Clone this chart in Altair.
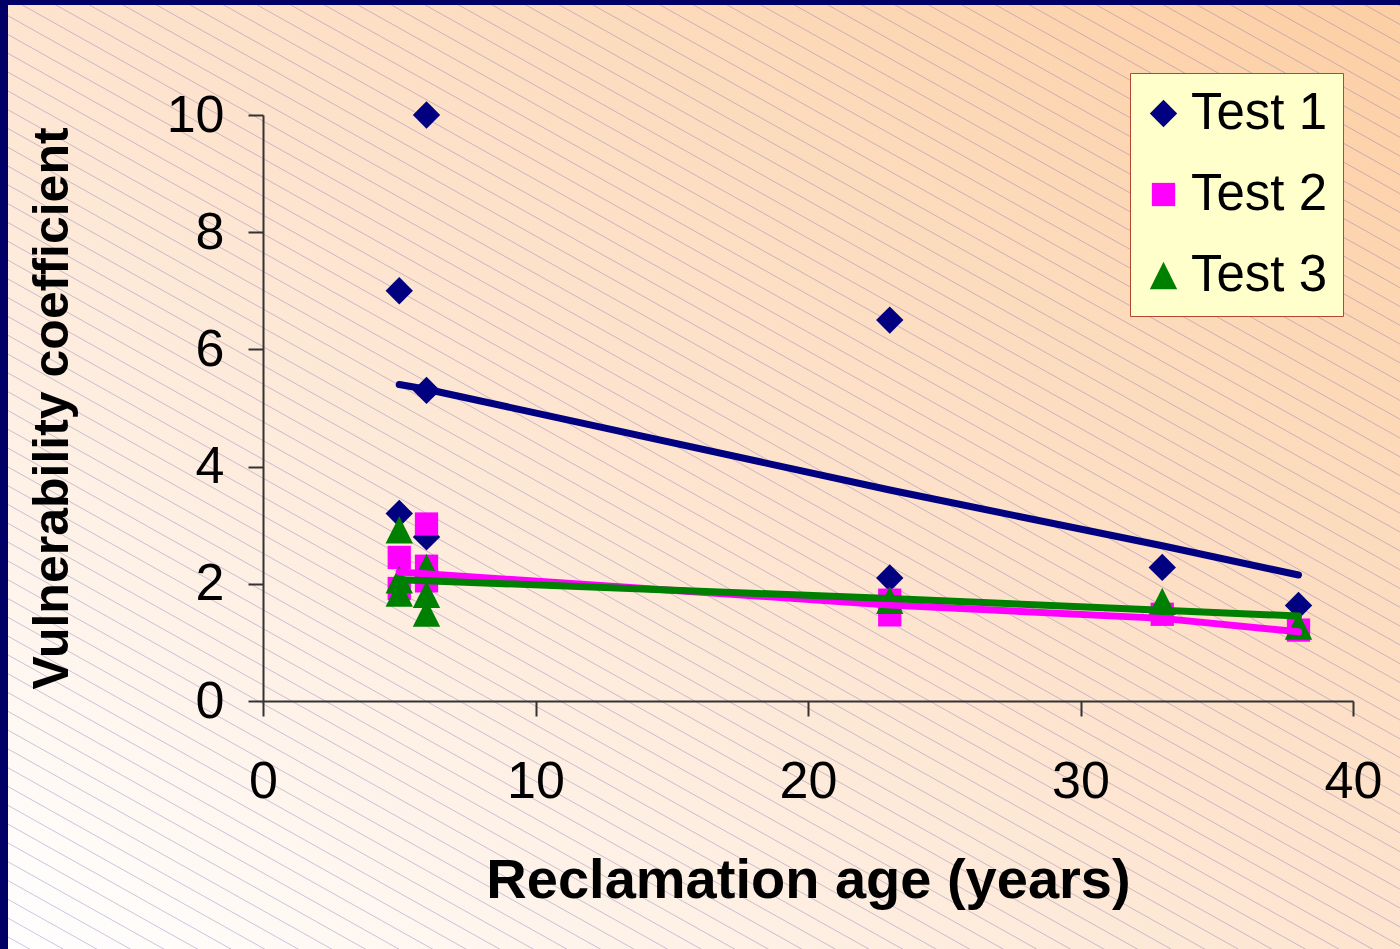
import altair as alt
import pandas as pd

# --- series definitions -------------------------------------------------------
series_names = ["Test 1", "Test 2", "Test 3"]
series_colors = ["#000080", "#FF00FF", "#008000"]
# diamond, square, triangle drawn in a -1..1 box (scaled by sqrt(size))
series_shapes = [
    "M-1,0L0,-1L1,0L0,1Z",
    "M-0.85,-0.85L0.85,-0.85L0.85,0.85L-0.85,0.85Z",
    "M-1,1L0,-1L1,1Z",
]

# --- observations: reclamation age (years) vs vulnerability coefficient --------
test1_age = [5, 5, 6, 6, 6, 23, 23, 33, 38]
test1_coef = [7.0, 3.2, 10.0, 5.3, 2.8, 6.5, 2.1, 2.28, 1.63]

test2_age = [5, 5, 6, 6, 6, 23, 23, 33, 38]
test2_coef = [2.45, 1.92, 3.02, 2.3, 2.05, 1.72, 1.47, 1.48, 1.21]

test3_age = [5, 5, 5, 6, 6, 6, 23, 33, 38]
test3_coef = [2.92, 2.07, 1.84, 2.28, 1.82, 1.5, 1.72, 1.7, 1.28]

# --- fitted trend lines -------------------------------------------------------
trend1_age = [5, 6, 23, 33, 38]
trend1_coef = [5.40, 5.32, 3.60, 2.65, 2.15]

trend2_age = [5, 23, 33, 38]
trend2_coef = [2.20, 1.64, 1.41, 1.18]

trend3_age = [5, 23, 33, 38]
trend3_coef = [2.07, 1.75, 1.55, 1.45]

# --- tables -------------------------------------------------------------------
points = pd.concat(
    [
        pd.DataFrame({"series": s, "age": a, "coef": c})
        for s, a, c in zip(
            series_names,
            [test1_age, test2_age, test3_age],
            [test1_coef, test2_coef, test3_coef],
        )
    ],
    ignore_index=True,
)
trends = pd.concat(
    [
        pd.DataFrame({"series": s, "age": a, "coef": c})
        for s, a, c in zip(
            series_names,
            [trend1_age, trend2_age, trend3_age],
            [trend1_coef, trend2_coef, trend3_coef],
        )
    ],
    ignore_index=True,
)

# --- layout (pixels) ----------------------------------------------------------
W, H = 1400, 949
PAD_L, PAD_T, PAD_R, PAD_B = 263, 115, 47, 248
PLOT_W, PLOT_H = W - PAD_L - PAD_R, H - PAD_T - PAD_B
FONT = "Liberation Sans"
MARKER_SIZE = 750

x_axis = alt.Axis(
    values=[0, 10, 20, 30, 40],
    title="Reclamation age (years)",
    grid=False,
    zindex=1,
    domainColor="#333333",
    domainWidth=2,
    tickColor="#333333",
    tickWidth=2,
    tickSize=15,
    labelFont=FONT,
    labelFontSize=52,
    labelColor="black",
    labelBaseline="alphabetic",
    labelPadding=81,
    labelFlush=False,
    labelOverlap=False,
    titleFont=FONT,
    titleFontSize=56,
    titleFontWeight="bold",
    titleColor="black",
    titleBaseline="alphabetic",
    titleY=196,
)
y_axis = alt.Axis(
    values=[0, 2, 4, 6, 8, 10],
    title="Vulnerability coefficient",
    grid=False,
    zindex=1,
    domainColor="#333333",
    domainWidth=2,
    tickColor="#333333",
    tickWidth=2,
    tickSize=15,
    labelFont=FONT,
    labelFontSize=52,
    labelColor="black",
    labelBaseline="middle",
    labelPadding=24,
    labelFlush=False,
    labelOverlap=False,
    titleFont=FONT,
    titleFontSize=50,
    titleFontWeight="bold",
    titleColor="black",
    titleAngle=270,
    titleAlign="center",
    titleBaseline="alphabetic",
    titleX=-196,
    titleY=PLOT_H / 2,
)

x_enc = alt.X("age:Q", scale=alt.Scale(domain=[0, 40], nice=False, zero=False), axis=x_axis)
y_enc = alt.Y("coef:Q", scale=alt.Scale(domain=[0, 10], nice=False), axis=y_axis)

legend = alt.Legend(
    title=None,
    orient="none",
    legendX=1130 - PAD_L,
    legendY=73 - PAD_T,
    fillColor="#FFFFCC",
    strokeColor="#B5472F",
    padding=15,
    rowPadding=29,
    labelFont=FONT,
    labelFontSize=51,
    labelColor="black",
    labelOffset=2,
    symbolOffset=-7,
    symbolSize=MARKER_SIZE,
    symbolStrokeWidth=0,
    symbolOpacity=1,
)
color_enc = alt.Color(
    "series:N",
    scale=alt.Scale(domain=series_names, range=series_colors),
    legend=legend,
)
shape_enc = alt.Shape(
    "series:N",
    scale=alt.Scale(domain=series_names, range=series_shapes),
    legend=legend,
)

# --- slide background: soft peach gradient with diagonal hatching ---------------
one_row = pd.DataFrame({"k": [0]})
background = (
    alt.Chart(one_row)
    .mark_rect(
        fill=alt.Gradient(
            gradient="linear",
            x1=0, y1=1, x2=1, y2=0,
            stops=[
                alt.GradientStop(color="#FFFFFF", offset=0),
                alt.GradientStop(color="#FDE4CF", offset=0.5),
                alt.GradientStop(color="#FCCFA4", offset=1),
            ],
        )
    )
    .encode(
        x=alt.value(-PAD_L), x2=alt.value(W - PAD_L),
        y=alt.value(-PAD_T), y2=alt.value(H - PAD_T),
    )
)

HATCH_SLOPE, HATCH_GAP, HATCH_START = 0.56, 18.8, 838.5
hatch = (
    alt.Chart(alt.sequence(-6, 96, as_="k"))
    .transform_calculate(
        hy1=f"{HATCH_START} - {HATCH_GAP} * datum.k - {PAD_T}",
        hy2=f"{HATCH_START} - {HATCH_GAP} * datum.k + {HATCH_SLOPE * W} - {PAD_T}",
    )
    .mark_rule(stroke="#7868B0", strokeOpacity=0.38, strokeWidth=1)
    .encode(
        x=alt.value(-PAD_L), x2=alt.value(W - PAD_L),
        y=alt.Y("hy1:Q", scale=None, axis=None), y2="hy2:Q",
    )
)

# --- data marks ---------------------------------------------------------------
markers = (
    alt.Chart(points)
    .mark_point(filled=True, opacity=1, strokeWidth=0, size=MARKER_SIZE)
    .encode(x=x_enc, y=y_enc, color=color_enc, shape=shape_enc)
)

trend_lines = (
    alt.Chart(trends)
    .mark_line(strokeWidth=7, strokeCap="round", strokeJoin="round")
    .encode(
        x=x_enc,
        y=y_enc,
        color=alt.Color("series:N", scale=alt.Scale(domain=series_names, range=series_colors), legend=None),
        detail="series:N",
    )
)

# --- navy slide frame on left and top edges -----------------------------------
frame_left = alt.Chart(one_row).mark_rect(fill="#000066").encode(
    x=alt.value(-PAD_L), x2=alt.value(-PAD_L + 8),
    y=alt.value(-PAD_T), y2=alt.value(H - PAD_T),
)
frame_top = alt.Chart(one_row).mark_rect(fill="#000066").encode(
    x=alt.value(-PAD_L), x2=alt.value(W - PAD_L),
    y=alt.value(-PAD_T), y2=alt.value(-PAD_T + 5),
)

chart = (
    alt.layer(background, hatch, markers, trend_lines, frame_left, frame_top)
    .properties(
        width=PLOT_W,
        height=PLOT_H,
        padding={"left": PAD_L, "top": PAD_T, "right": PAD_R, "bottom": PAD_B},
        autosize=alt.AutoSizeParams(type="none"),
        background="#FFFFFF",
    )
    .configure_view(stroke=None)
)

chart.save("out.html", embed_options={"renderer": "svg", "actions": False})
